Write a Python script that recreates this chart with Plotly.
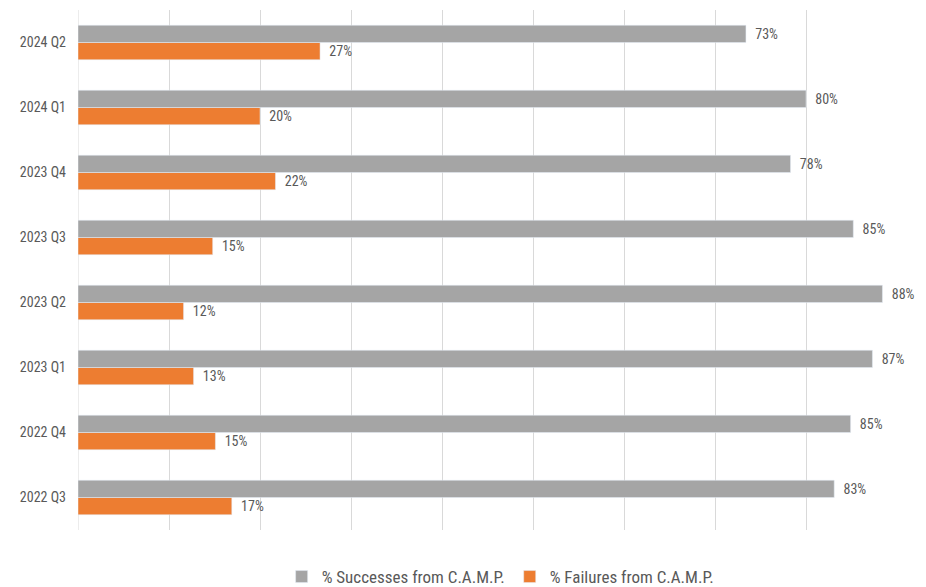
import plotly.graph_objects as go

categories = ["2022 Q3", "2022 Q4", "2023 Q1", "2023 Q2", "2023 Q3", "2023 Q4", "2024 Q1", "2024 Q2"]
successes = [0.831, 0.849, 0.873, 0.884, 0.852, 0.783, 0.800, 0.734]
failures = [0.169, 0.151, 0.127, 0.116, 0.148, 0.217, 0.200, 0.266]
series_names = ["% Successes from C.A.M.P.", "% Failures from C.A.M.P."]

FONT = "Liberation Sans Narrow, Roboto Condensed, Arial Narrow, Liberation Sans, sans-serif"
TXT = "#595959"
PAD = "\u2002"

fig = go.Figure()
fig.add_trace(go.Bar(
    y=categories, x=failures, orientation="h", name=series_names[1],
    marker=dict(color="#ED7D31"),
    texttemplate=PAD + "%{x:.0%}", textposition="outside",
    textfont=dict(color=TXT, size=14, family=FONT), cliponaxis=False,
))
fig.add_trace(go.Bar(
    y=categories, x=successes, orientation="h", name=series_names[0],
    marker=dict(color="#A5A5A5"),
    texttemplate=PAD + "%{x:.0%}", textposition="outside",
    textfont=dict(color=TXT, size=14, family=FONT), cliponaxis=False,
))

fig.update_layout(
    width=926, height=587,
    margin=dict(l=70, r=37, t=2, b=65, autoexpand=False),
    barmode="group", bargap=0.47, bargroupgap=0,
    plot_bgcolor="white", paper_bgcolor="white",
    font=dict(family=FONT, color=TXT, size=14),
    showlegend=True,
    legend=dict(orientation="h", traceorder="reversed", x=0.532, xanchor="center",
                xref="container", yref="container",
                y=0.0, yanchor="bottom", font=dict(size=17, color=TXT, family=FONT),
                itemwidth=30),
    xaxis=dict(range=[0, 0.9], dtick=0.1, showgrid=True, gridcolor="#D9D9D9",
               showticklabels=False, zeroline=False, showline=False, fixedrange=True,
               automargin=False),
    yaxis=dict(categoryorder="array", categoryarray=categories, showgrid=False,
               tickfont=dict(size=14, color=TXT, family=FONT), ticks="",
               ticklabelstandoff=11, showline=False, zeroline=False, automargin=False),
    uniformtext=dict(mode=False),
)
fig.add_shape(type="line", xref="x", yref="paper", x0=0, x1=0, y0=0, y1=1,
              line=dict(color="#D9D9D9", width=1), layer="below")

fig.write_html("out.html")
